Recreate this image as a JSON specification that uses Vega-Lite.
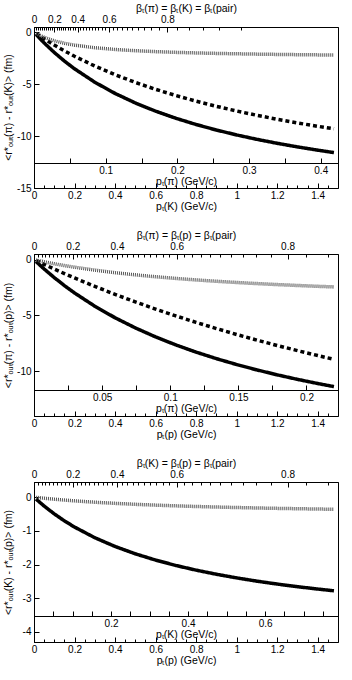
{
"$schema": "https://vega.github.io/schema/vega-lite/v6.json",
"padding": {"left": 2, "top": 2, "right": 0, "bottom": 0},
"spacing": 66,
"bounds": "flush",
"config": {"font": "Liberation Sans", "view": {"stroke": "#000", "strokeWidth": 1},
 "axis": {"grid": false, "labelFont": "Liberation Sans", "labelFontSize": 10, "labelColor": "#000", "titleFont": "Liberation Sans", "titleFontSize": 10.5, "titleFontWeight": "normal", "titleColor": "#000", "domainColor": "#000", "tickColor": "#000", "labelFlush": false, "labelOverlap": false}},
"datasets": {
 "kpi": [
  {"p":0.01,"v":-0.216,"s":"solid"},{"p":0.05,"v":-1.032,"s":"solid"},{"p":0.1,"v":-1.953,"s":"solid"},{"p":0.15,"v":-2.779,"s":"solid"},{"p":0.2,"v":-3.524,"s":"solid"},{"p":0.3,"v":-4.816,"s":"solid"},{"p":0.4,"v":-5.897,"s":"solid"},{"p":0.5,"v":-6.814,"s":"solid"},{"p":0.6,"v":-7.602,"s":"solid"},{"p":0.7,"v":-8.287,"s":"solid"},{"p":0.8,"v":-8.888,"s":"solid"},{"p":0.9,"v":-9.419,"s":"solid"},{"p":1.0,"v":-9.892,"s":"solid"},{"p":1.1,"v":-10.315,"s":"solid"},{"p":1.2,"v":-10.697,"s":"solid"},{"p":1.3,"v":-11.043,"s":"solid"},{"p":1.4,"v":-11.357,"s":"solid"},{"p":1.48,"v":-11.589,"s":"solid"},
  {"p":0.01,"v":-0.132,"s":"dashed"},{"p":0.05,"v":-0.642,"s":"dashed"},{"p":0.1,"v":-1.239,"s":"dashed"},{"p":0.15,"v":-1.796,"s":"dashed"},{"p":0.2,"v":-2.315,"s":"dashed"},{"p":0.3,"v":-3.259,"s":"dashed"},{"p":0.4,"v":-4.093,"s":"dashed"},{"p":0.5,"v":-4.835,"s":"dashed"},{"p":0.6,"v":-5.5,"s":"dashed"},{"p":0.7,"v":-6.099,"s":"dashed"},{"p":0.8,"v":-6.642,"s":"dashed"},{"p":0.9,"v":-7.136,"s":"dashed"},{"p":1.0,"v":-7.587,"s":"dashed"},{"p":1.1,"v":-8.001,"s":"dashed"},{"p":1.2,"v":-8.382,"s":"dashed"},{"p":1.3,"v":-8.734,"s":"dashed"},{"p":1.4,"v":-9.06,"s":"dashed"},{"p":1.48,"v":-9.304,"s":"dashed"},
  {"p":0.01,"v":-0.119,"s":"dotted"},{"p":0.05,"v":-0.499,"s":"dotted"},{"p":0.1,"v":-0.831,"s":"dotted"},{"p":0.15,"v":-1.069,"s":"dotted"},{"p":0.2,"v":-1.247,"s":"dotted"},{"p":0.3,"v":-1.497,"s":"dotted"},{"p":0.4,"v":-1.664,"s":"dotted"},{"p":0.5,"v":-1.783,"s":"dotted"},{"p":0.6,"v":-1.872,"s":"dotted"},{"p":0.7,"v":-1.941,"s":"dotted"},{"p":0.8,"v":-1.997,"s":"dotted"},{"p":0.9,"v":-2.042,"s":"dotted"},{"p":1.0,"v":-2.08,"s":"dotted"},{"p":1.1,"v":-2.112,"s":"dotted"},{"p":1.2,"v":-2.14,"s":"dotted"},{"p":1.3,"v":-2.163,"s":"dotted"},{"p":1.4,"v":-2.184,"s":"dotted"},{"p":1.48,"v":-2.199,"s":"dotted"}
 ],
 "ppi": [
  {"p":0.01,"v":-0.174,"s":"solid"},{"p":0.05,"v":-0.84,"s":"solid"},{"p":0.1,"v":-1.612,"s":"solid"},{"p":0.15,"v":-2.326,"s":"solid"},{"p":0.2,"v":-2.987,"s":"solid"},{"p":0.3,"v":-4.173,"s":"solid"},{"p":0.4,"v":-5.207,"s":"solid"},{"p":0.5,"v":-6.115,"s":"solid"},{"p":0.6,"v":-6.92,"s":"solid"},{"p":0.7,"v":-7.639,"s":"solid"},{"p":0.8,"v":-8.284,"s":"solid"},{"p":0.9,"v":-8.866,"s":"solid"},{"p":1.0,"v":-9.394,"s":"solid"},{"p":1.1,"v":-9.875,"s":"solid"},{"p":1.2,"v":-10.316,"s":"solid"},{"p":1.3,"v":-10.721,"s":"solid"},{"p":1.4,"v":-11.094,"s":"solid"},{"p":1.48,"v":-11.372,"s":"solid"},
  {"p":0.01,"v":-0.087,"s":"dashed"},{"p":0.05,"v":-0.429,"s":"dashed"},{"p":0.1,"v":-0.846,"s":"dashed"},{"p":0.15,"v":-1.251,"s":"dashed"},{"p":0.2,"v":-1.644,"s":"dashed"},{"p":0.3,"v":-2.398,"s":"dashed"},{"p":0.4,"v":-3.112,"s":"dashed"},{"p":0.5,"v":-3.788,"s":"dashed"},{"p":0.6,"v":-4.43,"s":"dashed"},{"p":0.7,"v":-5.041,"s":"dashed"},{"p":0.8,"v":-5.621,"s":"dashed"},{"p":0.9,"v":-6.175,"s":"dashed"},{"p":1.0,"v":-6.702,"s":"dashed"},{"p":1.1,"v":-7.206,"s":"dashed"},{"p":1.2,"v":-7.688,"s":"dashed"},{"p":1.3,"v":-8.149,"s":"dashed"},{"p":1.4,"v":-8.59,"s":"dashed"},{"p":1.48,"v":-8.93,"s":"dashed"},
  {"p":0.01,"v":-0.041,"s":"dotted"},{"p":0.05,"v":-0.195,"s":"dotted"},{"p":0.1,"v":-0.373,"s":"dotted"},{"p":0.15,"v":-0.535,"s":"dotted"},{"p":0.2,"v":-0.683,"s":"dotted"},{"p":0.3,"v":-0.946,"s":"dotted"},{"p":0.4,"v":-1.171,"s":"dotted"},{"p":0.5,"v":-1.367,"s":"dotted"},{"p":0.6,"v":-1.538,"s":"dotted"},{"p":0.7,"v":-1.688,"s":"dotted"},{"p":0.8,"v":-1.822,"s":"dotted"},{"p":0.9,"v":-1.942,"s":"dotted"},{"p":1.0,"v":-2.05,"s":"dotted"},{"p":1.1,"v":-2.148,"s":"dotted"},{"p":1.2,"v":-2.236,"s":"dotted"},{"p":1.3,"v":-2.317,"s":"dotted"},{"p":1.4,"v":-2.392,"s":"dotted"},{"p":1.48,"v":-2.447,"s":"dotted"}
 ],
 "kp": [
  {"p":0.01,"v":-0.056,"s":"solid"},{"p":0.05,"v":-0.264,"s":"solid"},{"p":0.1,"v":-0.497,"s":"solid"},{"p":0.15,"v":-0.704,"s":"solid"},{"p":0.2,"v":-0.888,"s":"solid"},{"p":0.3,"v":-1.204,"s":"solid"},{"p":0.4,"v":-1.464,"s":"solid"},{"p":0.5,"v":-1.682,"s":"solid"},{"p":0.6,"v":-1.868,"s":"solid"},{"p":0.7,"v":-2.028,"s":"solid"},{"p":0.8,"v":-2.167,"s":"solid"},{"p":0.9,"v":-2.289,"s":"solid"},{"p":1.0,"v":-2.397,"s":"solid"},{"p":1.1,"v":-2.494,"s":"solid"},{"p":1.2,"v":-2.58,"s":"solid"},{"p":1.3,"v":-2.658,"s":"solid"},{"p":1.4,"v":-2.728,"s":"solid"},{"p":1.48,"v":-2.78,"s":"solid"},
  {"p":0.01,"v":-0.007,"s":"dotted"},{"p":0.05,"v":-0.032,"s":"dotted"},{"p":0.1,"v":-0.061,"s":"dotted"},{"p":0.15,"v":-0.087,"s":"dotted"},{"p":0.2,"v":-0.11,"s":"dotted"},{"p":0.3,"v":-0.151,"s":"dotted"},{"p":0.4,"v":-0.184,"s":"dotted"},{"p":0.5,"v":-0.213,"s":"dotted"},{"p":0.6,"v":-0.237,"s":"dotted"},{"p":0.7,"v":-0.258,"s":"dotted"},{"p":0.8,"v":-0.277,"s":"dotted"},{"p":0.9,"v":-0.293,"s":"dotted"},{"p":1.0,"v":-0.308,"s":"dotted"},{"p":1.1,"v":-0.321,"s":"dotted"},{"p":1.2,"v":-0.333,"s":"dotted"},{"p":1.3,"v":-0.343,"s":"dotted"},{"p":1.4,"v":-0.353,"s":"dotted"},{"p":1.48,"v":-0.36,"s":"dotted"}
 ]
},
"vconcat": [
 {
  "width": 304, "height": 161,
  "resolve": {"axis": {"x": "independent", "y": "independent"}},
  "layer": [
   {"data": {"name": "kpi"}, "mark": {"type": "line", "strokeCap": "butt", "clip": true},
    "encoding": {
     "x": {"field": "p", "type": "quantitative", "scale": {"domain": [0, 1.5], "nice": false, "zero": false}, "axis": {"orient": "bottom", "values": [0,0.2,0.4,0.6,0.8,1,1.2,1.4], "format": "~g", "tickSize": -5, "labelPadding": 7, "title": "pₜ(K) (GeV/c)", "titlePadding": 1}},
     "y": {"field": "v", "type": "quantitative", "scale": {"domain": [-15, 0.5], "nice": false, "zero": false}, "axis": {"orient": "left", "values": [0,-5,-10,-15], "labelExpr": "'' + datum.value", "tickSize": -5, "labelPadding": 8, "title": "<r*ₒᵤₜ(π) - r*ₒᵤₜ(K)> (fm)", "titleX": -21, "titleY": 80}},
     "color": {"field": "s", "type": "nominal", "scale": {"domain": ["solid","dashed","dotted"], "range": ["#000000","#000000","#555555"]}, "legend": null},
     "strokeDash": {"field": "s", "type": "nominal", "scale": {"domain": ["solid","dashed","dotted"], "range": [[1,0],[4,3],[1,1]]}, "legend": null},
     "strokeWidth": {"field": "s", "type": "nominal", "scale": {"domain": ["solid","dashed","dotted"], "range": [3.5,3.5,3]}, "legend": null}
    }},
   {"data": {"name": "kpi"}, "mark": {"type": "point", "opacity": 0},
    "encoding": {"y": {"field": "v", "type": "quantitative", "axis": null}, "x": {"field": "p", "type": "quantitative", "scale": {"domain": [0, 1.5], "nice": false, "zero": false}, "axis": {"orient": "bottom", "values": [0.05,0.1,0.15,0.2,0.25,0.3,0.35,0.4,0.45,0.5,0.55,0.6,0.65,0.7,0.75,0.8,0.85,0.9,0.95,1,1.05,1.1,1.15,1.2,1.25,1.3,1.35,1.4,1.45], "labels": false, "domain": false, "tickSize": -3, "title": null}}}},
   {"data": {"name": "kpi"}, "mark": {"type": "point", "opacity": 0},
    "encoding": {"y": {"field": "v", "type": "quantitative", "axis": null}, "x": {"field": "p", "type": "quantitative", "scale": {"domain": [0, 1.5], "nice": false, "zero": false}, "axis": {"orient": "top", "values": [0,0.10077,0.21547,0.37028,0.65827], "labelExpr": "datum.value == 0 ? '0' : format(datum.value/sqrt(datum.value*datum.value+0.24372), '.1f')", "tickSize": -5, "labelPadding": 8, "title": "βₜ(π) = βₜ(K) = βₜ(pair)", "titlePadding": 1}}}},
   {"data": {"name": "kpi"}, "mark": {"type": "point", "opacity": 0},
    "encoding": {"y": {"field": "v", "type": "quantitative", "axis": null}, "x": {"field": "p", "type": "quantitative", "scale": {"domain": [0, 1.5], "nice": false, "zero": false}, "axis": {"orient": "top", "values": [0.00988,0.01976,0.02967,0.03962,0.04962,0.05967,0.06981,0.08002,0.09034,0.10077,0.11134,0.12206,0.13293,0.144,0.15526,0.16675,0.17849,0.1905,0.20282,0.21547,0.22849,0.2419,0.25577,0.27013,0.28504,0.30055,0.31675,0.33371,0.35151,0.37028,0.39013,0.41122,0.43372,0.45787,0.48393,0.51222,0.54316,0.57732,0.61537,0.65827,0.70731,0.76431,0.83202,0.9147,1.01936], "labels": false, "domain": false, "tickSize": -3, "title": null}}}},
   {"data": {"name": "kpi"}, "mark": {"type": "point", "opacity": 0},
    "encoding": {"y": {"field": "v", "type": "quantitative", "axis": null}, "x": {"field": "p", "type": "quantitative", "scale": {"domain": [0, 1.5], "nice": false, "zero": false}, "axis": {"orient": "bottom", "offset": -25, "values": [0.17686,0.35372,0.53058,0.70744,0.8843,1.06116,1.23802,1.41488], "labelExpr": "round(datum.value*0.28271*20) % 2 == 0 ? format(datum.value*0.28271, '.1f') : ''", "tickSize": -5, "labelPadding": 7, "title": "pₜ(π) (GeV/c)", "titleY": 13}}}}
  ]
 },
 {
  "width": 304, "height": 162,
  "resolve": {"axis": {"x": "independent", "y": "independent"}},
  "layer": [
   {"data": {"name": "ppi"}, "mark": {"type": "line", "strokeCap": "butt", "clip": true},
    "encoding": {
     "x": {"field": "p", "type": "quantitative", "scale": {"domain": [0, 1.5], "nice": false, "zero": false}, "axis": {"orient": "bottom", "values": [0,0.2,0.4,0.6,0.8,1,1.2,1.4], "format": "~g", "tickSize": -5, "labelPadding": 7, "title": "pₜ(p) (GeV/c)", "titlePadding": 1}},
     "y": {"field": "v", "type": "quantitative", "scale": {"domain": [-14, 0.5], "nice": false, "zero": false}, "axis": {"orient": "left", "values": [0,-5,-10], "labelExpr": "'' + datum.value", "tickSize": -5, "labelPadding": 8, "title": "<r*ₒᵤₜ(π) - r*ₒᵤₜ(p)> (fm)", "titleX": -21, "titleY": 81}},
     "color": {"field": "s", "type": "nominal", "scale": {"domain": ["solid","dashed","dotted"], "range": ["#000000","#000000","#555555"]}, "legend": null},
     "strokeDash": {"field": "s", "type": "nominal", "scale": {"domain": ["solid","dashed","dotted"], "range": [[1,0],[4,3],[1,1]]}, "legend": null},
     "strokeWidth": {"field": "s", "type": "nominal", "scale": {"domain": ["solid","dashed","dotted"], "range": [3.5,3.5,3]}, "legend": null}
    }},
   {"data": {"name": "ppi"}, "mark": {"type": "point", "opacity": 0},
    "encoding": {"y": {"field": "v", "type": "quantitative", "axis": null}, "x": {"field": "p", "type": "quantitative", "scale": {"domain": [0, 1.5], "nice": false, "zero": false}, "axis": {"orient": "bottom", "values": [0.05,0.1,0.15,0.2,0.25,0.3,0.35,0.4,0.45,0.5,0.55,0.6,0.65,0.7,0.75,0.8,0.85,0.9,0.95,1,1.05,1.1,1.15,1.2,1.25,1.3,1.35,1.4,1.45], "labels": false, "domain": false, "tickSize": -3, "title": null}}}},
   {"data": {"name": "ppi"}, "mark": {"type": "point", "opacity": 0},
    "encoding": {"y": {"field": "v", "type": "quantitative", "axis": null}, "x": {"field": "p", "type": "quantitative", "scale": {"domain": [0, 1.5], "nice": false, "zero": false}, "axis": {"orient": "top", "values": [0,0.19152,0.4095,0.7037,1.25102], "labelExpr": "datum.value == 0 ? '0' : format(datum.value/sqrt(datum.value*datum.value+0.88035), '.1f')", "tickSize": -5, "labelPadding": 8, "title": "βₜ(π) = βₜ(p) = βₜ(pair)", "titlePadding": 1}}}},
   {"data": {"name": "ppi"}, "mark": {"type": "point", "opacity": 0},
    "encoding": {"y": {"field": "v", "type": "quantitative", "axis": null}, "x": {"field": "p", "type": "quantitative", "scale": {"domain": [0, 1.5], "nice": false, "zero": false}, "axis": {"orient": "top", "values": [0.01877,0.03756,0.0564,0.07531,0.0943,0.11341,0.13266,0.15208,0.17169,0.19152,0.21161,0.23197,0.25264,0.27366,0.29508,0.31691,0.33922,0.36205,0.38546,0.4095,0.43423,0.45973,0.48608,0.51337,0.54171,0.57119,0.60198,0.6342,0.66804,0.7037,0.74144,0.78152,0.82428,0.87018,0.91968,0.97346,1.03227,1.09718,1.16949,1.25102,1.34423,1.45256], "labels": false, "domain": false, "tickSize": -3, "title": null}}}},
   {"data": {"name": "ppi"}, "mark": {"type": "point", "opacity": 0},
    "encoding": {"y": {"field": "v", "type": "quantitative", "axis": null}, "x": {"field": "p", "type": "quantitative", "scale": {"domain": [0, 1.5], "nice": false, "zero": false}, "axis": {"orient": "bottom", "offset": -26, "values": [0.16807,0.33613,0.5042,0.67227,0.84034,1.0084,1.17647,1.34454], "labelExpr": "round(datum.value*0.14875*40) % 2 == 0 ? format(datum.value*0.14875, '.2~f') : ''", "tickSize": -5, "labelPadding": 7, "title": "pₜ(π) (GeV/c)", "titleY": 13}}}}
  ]
 },
 {
  "width": 304, "height": 160,
  "resolve": {"axis": {"x": "independent", "y": "independent"}},
  "layer": [
   {"data": {"name": "kp"}, "mark": {"type": "line", "strokeCap": "butt", "clip": true},
    "encoding": {
     "x": {"field": "p", "type": "quantitative", "scale": {"domain": [0, 1.5], "nice": false, "zero": false}, "axis": {"orient": "bottom", "values": [0,0.2,0.4,0.6,0.8,1,1.2,1.4], "format": "~g", "tickSize": -5, "labelPadding": 7, "title": "pₜ(p) (GeV/c)", "titlePadding": 1}},
     "y": {"field": "v", "type": "quantitative", "scale": {"domain": [-4.3, 0.45], "nice": false, "zero": false}, "axis": {"orient": "left", "values": [0,-1,-2,-3,-4], "labelExpr": "'' + datum.value", "tickSize": -5, "labelPadding": 8, "title": "<r*ₒᵤₜ(K) - r*ₒᵤₜ(p)> (fm)", "titleX": -21, "titleY": 80}},
     "color": {"field": "s", "type": "nominal", "scale": {"domain": ["solid","dashed","dotted"], "range": ["#000000","#000000","#555555"]}, "legend": null},
     "strokeDash": {"field": "s", "type": "nominal", "scale": {"domain": ["solid","dashed","dotted"], "range": [[1,0],[4,3],[1,1]]}, "legend": null},
     "strokeWidth": {"field": "s", "type": "nominal", "scale": {"domain": ["solid","dashed","dotted"], "range": [3.5,3.5,3]}, "legend": null}
    }},
   {"data": {"name": "kp"}, "mark": {"type": "point", "opacity": 0},
    "encoding": {"y": {"field": "v", "type": "quantitative", "axis": null}, "x": {"field": "p", "type": "quantitative", "scale": {"domain": [0, 1.5], "nice": false, "zero": false}, "axis": {"orient": "bottom", "values": [0.05,0.1,0.15,0.2,0.25,0.3,0.35,0.4,0.45,0.5,0.55,0.6,0.65,0.7,0.75,0.8,0.85,0.9,0.95,1,1.05,1.1,1.15,1.2,1.25,1.3,1.35,1.4,1.45], "labels": false, "domain": false, "tickSize": -3, "title": null}}}},
   {"data": {"name": "kp"}, "mark": {"type": "point", "opacity": 0},
    "encoding": {"y": {"field": "v", "type": "quantitative", "axis": null}, "x": {"field": "p", "type": "quantitative", "scale": {"domain": [0, 1.5], "nice": false, "zero": false}, "axis": {"orient": "top", "values": [0,0.19152,0.4095,0.7037,1.25102], "labelExpr": "datum.value == 0 ? '0' : format(datum.value/sqrt(datum.value*datum.value+0.88035), '.1f')", "tickSize": -5, "labelPadding": 8, "title": "βₜ(K) = βₜ(p) = βₜ(pair)", "titlePadding": 1}}}},
   {"data": {"name": "kp"}, "mark": {"type": "point", "opacity": 0},
    "encoding": {"y": {"field": "v", "type": "quantitative", "axis": null}, "x": {"field": "p", "type": "quantitative", "scale": {"domain": [0, 1.5], "nice": false, "zero": false}, "axis": {"orient": "top", "values": [0.01877,0.03756,0.0564,0.07531,0.0943,0.11341,0.13266,0.15208,0.17169,0.19152,0.21161,0.23197,0.25264,0.27366,0.29508,0.31691,0.33922,0.36205,0.38546,0.4095,0.43423,0.45973,0.48608,0.51337,0.54171,0.57119,0.60198,0.6342,0.66804,0.7037,0.74144,0.78152,0.82428,0.87018,0.91968,0.97346,1.03227,1.09718,1.16949,1.25102,1.34423,1.45256], "labels": false, "domain": false, "tickSize": -3, "title": null}}}},
   {"data": {"name": "kp"}, "mark": {"type": "point", "opacity": 0},
    "encoding": {"y": {"field": "v", "type": "quantitative", "axis": null}, "x": {"field": "p", "type": "quantitative", "scale": {"domain": [0, 1.5], "nice": false, "zero": false}, "axis": {"orient": "bottom", "offset": -26, "values": [0.09503,0.19006,0.28508,0.38011,0.47514,0.57017,0.6652,0.76022,0.85525,0.95028,1.04531,1.14034,1.23537,1.33039,1.42542], "labelExpr": "round(datum.value*0.52616*20) % 4 == 0 ? format(datum.value*0.52616, '.1f') : ''", "tickSize": -5, "labelPadding": 7, "title": "pₜ(K) (GeV/c)", "titleY": 13}}}}
  ]
 }
]
}
